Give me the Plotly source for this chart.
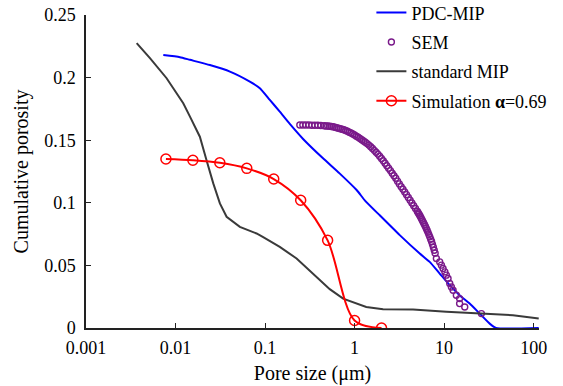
import plotly.graph_objects as go

# ---- data ----
pdc_x = [0.0073, 0.0112, 0.0145, 0.0242, 0.0405, 0.0676, 0.0875, 0.113, 0.146, 0.189, 0.266,
         0.441, 0.68, 1.06, 1.30, 1.91, 3.195, 5.343, 6.9, 8.93, 11.55, 14.9, 19.3, 24.97,
         32.3, 38.0, 114]
pdc_y = [0.218, 0.2163, 0.2142, 0.210, 0.2048, 0.1968, 0.1915, 0.1822, 0.1728, 0.163, 0.151,
         0.1357, 0.1235, 0.110, 0.102, 0.090, 0.0742, 0.0595, 0.0528, 0.0435, 0.0342, 0.0262,
         0.0195, 0.0115, 0.0035, 0.0, 0.0]

# SEM pore sizes read as log10(μm)
sem_log10_x = [-0.6117, -0.578, -0.5447, -0.511, -0.4776, -0.444, -0.4106, -0.3772,
               -0.34, -0.32, -0.30, -0.28, -0.26, -0.24, -0.22, -0.20, -0.18, -0.16,
               -0.14, -0.12, -0.10, -0.08, -0.06, -0.04, -0.02, 0.00, 0.02, 0.04,
               0.06, 0.08, 0.10, 0.12, 0.14, 0.16, 0.18, 0.20, 0.22, 0.24,
               0.26, 0.28, 0.30, 0.32, 0.34, 0.36, 0.38, 0.40, 0.42, 0.44,
               0.46, 0.48, 0.50, 0.52, 0.54, 0.56, 0.58, 0.60, 0.62, 0.64,
               0.66, 0.68, 0.70, 0.71, 0.72, 0.73, 0.74, 0.75, 0.76, 0.77,
               0.78, 0.79, 0.80, 0.81, 0.82, 0.83, 0.84, 0.85, 0.86, 0.87,
               0.88, 0.89, 0.90,
               0.9138, 0.9509, 0.9699, 0.9881, 1.0086, 1.0253, 1.0441, 1.063, 1.0813,
               1.1004, 1.1367, 1.1732, 1.1732, 1.2304, 1.4166]
sem_y = [0.1622, 0.1622, 0.1621, 0.1621, 0.1620, 0.1620, 0.1619, 0.1618,
         0.1616, 0.1614, 0.1613, 0.1611, 0.1609, 0.1607, 0.1604, 0.1600, 0.1596, 0.1592,
         0.1588, 0.1583, 0.1577, 0.1571, 0.1564, 0.1557, 0.1549, 0.1541, 0.1532, 0.1523,
         0.1514, 0.1504, 0.1494, 0.1484, 0.1473, 0.1461, 0.1448, 0.1434, 0.1419, 0.1404,
         0.1389, 0.1372, 0.1354, 0.1336, 0.1316, 0.1296, 0.1276, 0.1257, 0.1237, 0.1216,
         0.1196, 0.1173, 0.1151, 0.1129, 0.1108, 0.1086, 0.1065, 0.1043, 0.1021, 0.0999,
         0.0977, 0.0954, 0.0932, 0.0920, 0.0908, 0.0896, 0.0883, 0.0869, 0.0855, 0.0841,
         0.0827, 0.0813, 0.0797, 0.0781, 0.0764, 0.0746, 0.0728, 0.0709, 0.0691, 0.0668,
         0.0645, 0.0621, 0.0598,
         0.0555, 0.0528, 0.0502, 0.0475, 0.0448, 0.0422, 0.0395, 0.0355, 0.0328,
         0.0302, 0.0262, 0.0235, 0.0195, 0.0168, 0.0115]
sem_x = [10 ** v for v in sem_log10_x]

mip_x = [0.00368, 0.00518, 0.00795, 0.0122, 0.0145, 0.0187, 0.0222, 0.0264, 0.0313, 0.0372,
         0.0523, 0.0804, 0.0953, 0.146, 0.225, 0.344, 0.528, 0.745, 1.35, 2.08, 4.5, 10.6,
         25, 58.7, 114]
mip_y = [0.2275, 0.2155, 0.1995, 0.1795, 0.1688, 0.1528, 0.134, 0.1155, 0.0995, 0.0888,
         0.0808, 0.0755, 0.0725, 0.0648, 0.0555, 0.0435, 0.031, 0.0235, 0.0168, 0.015, 0.0148, 0.013,
         0.0115, 0.0102, 0.0075]

sim_x = [0.0078125, 0.015625, 0.03125, 0.0625, 0.125, 0.25, 0.5, 1, 2]
sim_y = [0.135, 0.134, 0.132, 0.1275, 0.119, 0.102, 0.070, 0.006, 0.0]

x_tickvals = [0.001, 0.01, 0.1, 1, 10, 100]
x_ticktext = ["0.001", "0.01", "0.1", "1", "10", "100"]
y_tickvals = [0, 0.05, 0.1, 0.15, 0.2, 0.25]
y_ticktext = ["0", "0.05", "0.1", "0.15", "0.2", "0.25"]

FONT = "Liberation Serif"

fig = go.Figure()
fig.add_trace(go.Scatter(x=pdc_x, y=pdc_y, mode="lines", name="PDC-MIP", legendgroup="a",
                         line=dict(color="#0000FF", width=2, shape="spline", smoothing=0.5)))
fig.add_trace(go.Scatter(x=sem_x, y=sem_y, mode="markers", name="SEM", legendgroup="b",
                         marker=dict(symbol="circle-open", size=6, color="#7A1A8A",
                                     line=dict(width=1.4, color="#7A1A8A"))))
fig.add_trace(go.Scatter(x=mip_x, y=mip_y, mode="lines", name="standard MIP", legendgroup="c",
                         line=dict(color="#3a3a3a", width=2)))
fig.add_trace(go.Scatter(x=sim_x, y=sim_y, mode="lines+markers", name="Simulation <b>α</b>=0.69",
                         legendgroup="d",
                         line=dict(color="#FF0000", width=2, shape="spline", smoothing=0.9),
                         marker=dict(symbol="circle-open", size=10, color="#FF0000",
                                     line=dict(width=1.5, color="#FF0000"))))

axis_common = dict(showgrid=False, zeroline=False, showline=True, linecolor="#222", linewidth=1.5,
                   ticks="inside", ticklen=5, tickwidth=1.2, tickcolor="#222",
                   tickfont=dict(family=FONT, size=18, color="black"))

fig.update_layout(
    width=563, height=386,
    margin=dict(l=86, r=24, t=15, b=58, autoexpand=False),
    paper_bgcolor="white", plot_bgcolor="white",
    font=dict(family=FONT, size=18, color="black"),
    showlegend=True,
    legend=dict(x=0.63, y=1.066, xanchor="left", yanchor="top",
                bgcolor="rgba(0,0,0,0)", borderwidth=0,
                font=dict(family=FONT, size=18, color="black"),
                tracegroupgap=3),
    xaxis=dict(type="log", range=[-3, 2.06], tickvals=x_tickvals, ticktext=x_ticktext,
               ticklabelstandoff=3,
               title=dict(text="Pore size (μm)", font=dict(family=FONT, size=20), standoff=9),
               **axis_common),
    yaxis=dict(range=[0, 0.25], tickvals=y_tickvals, ticktext=y_ticktext,
               ticklabelstandoff=5,
               title=dict(text="Cumulative porosity", font=dict(family=FONT, size=20), standoff=10),
               **axis_common),
)

fig.write_html("out.html", config={"displayModeBar": False},
               post_script="document.body.style.margin='0px';")
